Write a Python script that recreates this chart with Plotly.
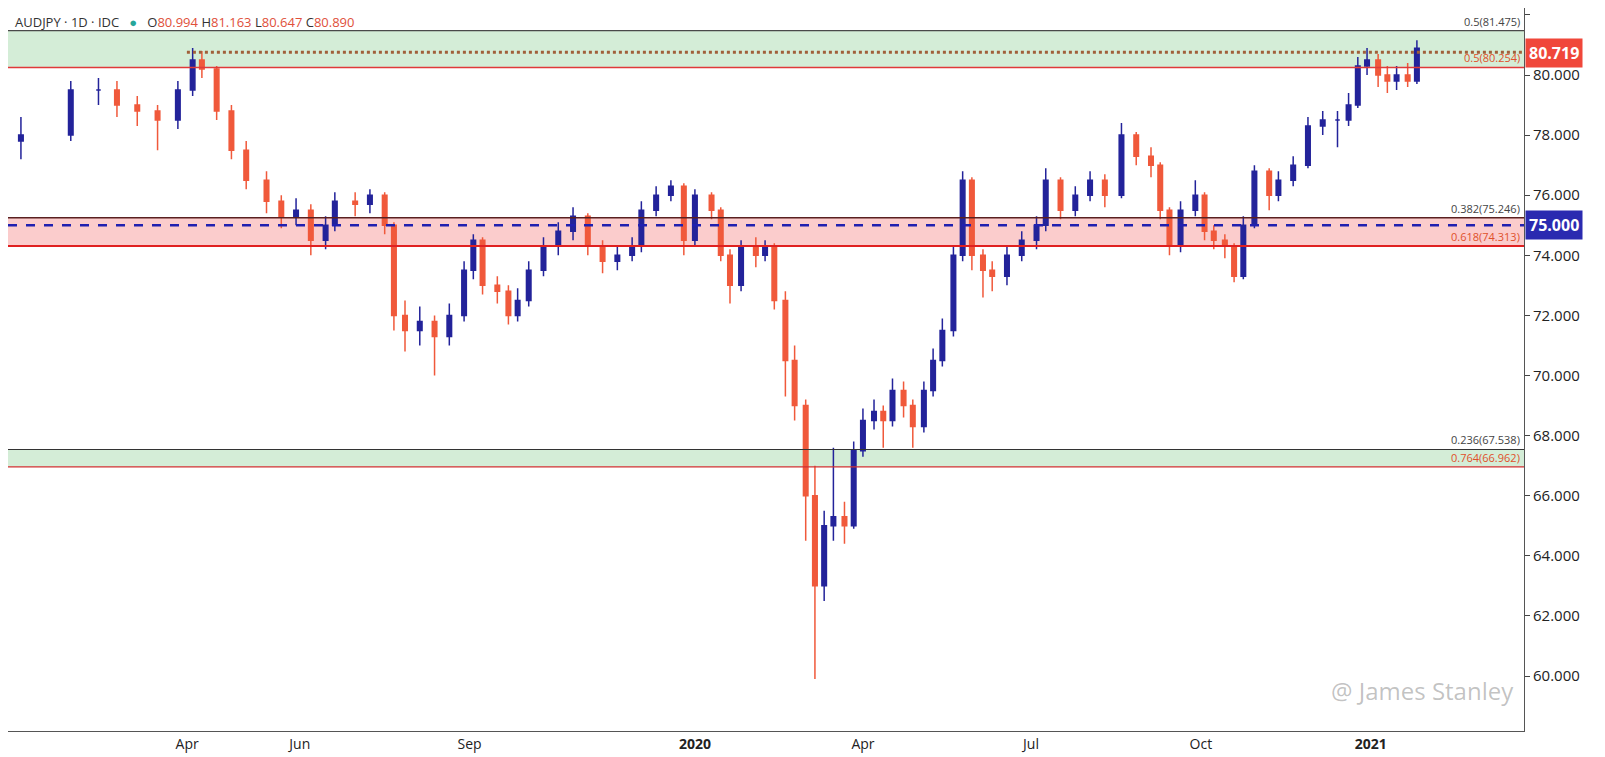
import plotly.graph_objects as go
import pandas as pd

dates = ["2019-01-01","2019-01-28","2019-02-12","2019-02-22","2019-03-05","2019-03-16","2019-03-27","2019-04-04","2019-04-09","2019-04-17",
"2019-04-25","2019-05-03","2019-05-14","2019-05-22","2019-05-30","2019-06-07","2019-06-15","2019-06-20","2019-07-01","2019-07-09",
"2019-07-17","2019-07-22","2019-07-28","2019-08-05","2019-08-13","2019-08-21","2019-08-29","2019-09-03","2019-09-08","2019-09-16",
"2019-09-22","2019-09-27","2019-10-03","2019-10-11","2019-10-19","2019-10-27","2019-11-04","2019-11-12","2019-11-20","2019-11-28",
"2019-12-03","2019-12-11","2019-12-19","2019-12-26","2020-01-01","2020-01-10","2020-01-15","2020-01-20","2020-01-26","2020-02-03",
"2020-02-08","2020-02-13","2020-02-19","2020-02-24","2020-03-01","2020-03-06","2020-03-11","2020-03-16","2020-03-22","2020-03-27",
"2020-04-01","2020-04-07","2020-04-12","2020-04-17","2020-04-23","2020-04-28","2020-05-04","2020-05-09","2020-05-14","2020-05-20",
"2020-05-25","2020-05-30","2020-06-05","2020-06-10","2020-06-18","2020-06-26","2020-07-04","2020-07-09","2020-07-17","2020-07-25",
"2020-08-02","2020-08-10","2020-08-19","2020-08-27","2020-09-04","2020-09-09","2020-09-14","2020-09-20","2020-09-28","2020-10-03",
"2020-10-08","2020-10-14","2020-10-19","2020-10-24","2020-10-30","2020-11-07","2020-11-12","2020-11-20","2020-11-28","2020-12-06",
"2020-12-14","2020-12-20","2020-12-25","2020-12-30","2021-01-05","2021-01-10","2021-01-15","2021-01-21","2021-01-26"]

close = [78.0,79.5,79.5,79.0,78.8,78.5,79.5,80.5,80.2,78.8,
77.5,76.5,75.8,75.3,75.5,74.5,75.0,75.8,75.7,76.0,
75.0,72.0,71.5,71.8,71.3,72.0,73.5,74.5,73.0,72.8,
72.0,72.5,73.5,74.3,74.8,75.3,74.3,73.8,74.0,74.3,
75.5,76.0,76.3,74.5,76.0,75.5,74.0,73.0,74.3,74.0,
74.3,72.5,70.5,69.0,66.0,63.0,65.0,65.3,65.0,67.5,
68.5,68.8,68.5,69.5,69.0,68.3,69.5,70.5,71.5,74.0,
76.5,74.0,73.5,73.3,74.0,74.5,75.0,76.5,75.5,76.0,
76.5,76.0,78.0,77.3,77.0,75.5,74.3,75.5,76.0,74.8,
74.5,74.3,73.3,75.0,76.8,76.0,76.5,77.0,78.3,78.5,
78.5,79.0,80.3,80.5,80.0,79.8,80.0,79.8,80.89]

high = [78.6,79.8,79.9,79.8,79.3,79.0,79.8,80.9,80.8,80.3,
79.0,77.8,76.8,76.0,75.9,75.7,75.3,76.1,76.1,76.2,
76.1,75.1,72.5,72.3,72.0,72.4,73.8,74.7,74.6,73.3,
73.0,72.9,73.8,74.6,75.1,75.6,75.4,74.5,74.3,74.6,
75.8,76.3,76.5,76.4,76.2,76.1,75.6,74.2,74.5,74.6,
74.5,74.4,72.8,71.0,69.2,67.0,65.5,67.6,65.8,67.8,
68.9,69.2,69.0,69.9,69.8,69.2,69.8,70.9,71.9,74.3,
76.8,76.6,74.2,73.8,74.3,74.8,75.3,76.9,76.6,76.3,
76.8,76.7,78.4,78.1,77.6,77.1,75.6,75.8,76.5,76.1,
75.0,74.7,74.4,75.3,77.0,76.9,76.8,77.3,78.6,78.8,
78.8,79.4,80.6,80.9,80.7,80.3,80.3,80.4,81.16]

low = [77.2,77.8,79.0,78.6,78.3,77.5,78.2,79.3,79.9,78.5,
77.2,76.2,75.4,74.9,75.0,74.0,74.2,74.8,75.3,75.4,
74.7,71.5,70.8,71.0,70.0,71.0,71.8,73.2,72.7,72.4,
71.7,71.8,72.3,73.3,74.0,74.5,74.0,73.4,73.5,73.8,
74.1,75.3,75.8,74.0,74.3,75.2,73.8,72.4,72.8,73.6,
73.8,72.2,69.3,68.5,64.5,59.9,62.5,64.5,64.4,64.9,
67.3,68.2,67.6,68.3,68.6,67.6,68.1,69.3,70.3,71.3,
73.8,73.5,72.6,72.8,73.0,73.8,74.2,74.8,75.2,75.3,
75.8,75.6,75.9,77.0,76.6,75.2,74.0,74.1,75.3,74.5,
74.2,73.9,73.1,73.2,74.9,75.5,75.8,76.3,76.9,78.0,
77.6,78.3,78.9,80.0,79.6,79.4,79.5,79.6,79.7]

first_open = 77.8
opens = [first_open] + close[:-1]

levels = {"top_green_hi": 81.475, "top_green_lo": 80.254, "dotted": 80.76,
          "mid_hi": 75.246, "mid_lo": 74.313, "mid": 75.0,
          "low_hi": 67.538, "low_lo": 66.962}

tick_vals = ["2019-04-01","2019-06-01","2019-09-01","2020-01-01","2020-04-01","2020-07-01","2020-10-01","2021-01-01"]
tick_text = ["Apr","Jun","Sep","<b>2020</b>","Apr","Jul","Oct","<b>2021</b>"]
y_ticks = [60,62,64,66,68,70,72,74,76,78,80,82]

x0, x1 = "2018-12-25", "2021-03-25"
UP, DN = "#23239a", "#f0593b"

fig = go.Figure()
fig.add_trace(go.Candlestick(x=pd.to_datetime(dates), open=opens, high=high, low=low, close=close,
    increasing=dict(line=dict(color=UP, width=1.5), fillcolor=UP),
    decreasing=dict(line=dict(color=DN, width=1.5), fillcolor=DN),
    whiskerwidth=0, showlegend=False))

shapes = []
def band(lo, hi, fill):
    shapes.append(dict(type="rect", xref="paper", x0=0, x1=1, yref="y", y0=lo, y1=hi,
                       fillcolor=fill, line=dict(width=0), layer="below"))
def hline(y, color, dash="solid", width=1.5, xs=0):
    shapes.append(dict(type="line", xref="paper", x0=xs, x1=1, yref="y", y0=y, y1=y,
                       line=dict(color=color, width=width, dash=dash)))
band(levels["top_green_lo"], levels["top_green_hi"], "rgba(120,200,130,0.32)")
band(levels["mid_lo"], levels["mid_hi"], "rgba(245,120,120,0.38)")
band(levels["low_lo"], levels["low_hi"], "rgba(120,200,130,0.32)")
hline(levels["top_green_hi"], "#4a4a4a", width=1.2)
hline(levels["top_green_lo"], "#e03a3a")
hline(levels["dotted"], "#a0603a", dash="dot", width=3, xs=0.118)
hline(levels["mid_hi"], "#5a2020", width=1.5)
hline(levels["mid_lo"], "#e02020", width=2)
hline(levels["mid"], "#2020b0", dash="dash", width=2.5)
hline(levels["low_hi"], "#333333", width=1.2)
hline(levels["low_lo"], "#d03030", width=1.2)

ann = []
def lab(y, text, color):
    ann.append(dict(xref="paper", x=0.999, y=y, yref="y", text=text, showarrow=False,
                    xanchor="right", yanchor="bottom", font=dict(size=11, color=color, family="Open Sans")))
lab(levels["top_green_hi"], "0.5(81.475)", "#444")
lab(levels["top_green_lo"], "0.5(80.254)", "#e0502a")
lab(levels["mid_hi"], "0.382(75.246)", "#444")
lab(levels["mid_lo"], "0.618(74.313)", "#e0502a")
lab(levels["low_hi"], "0.236(67.538)", "#444")
lab(levels["low_lo"], "0.764(66.962)", "#e0502a")
ann.append(dict(xref="paper", x=1.0, xanchor="left", y=80.719, yref="y", text="<b>80.719</b>", showarrow=False,
                bgcolor="#f0473a", font=dict(size=16, color="white", family="Open Sans"), borderpad=3, xshift=1))
ann.append(dict(xref="paper", x=1.0, xanchor="left", y=75.0, yref="y", text="<b>75.000</b>", showarrow=False,
                bgcolor="#2a2ab0", font=dict(size=16, color="white", family="Open Sans"), borderpad=3, xshift=1))
ann.append(dict(xref="paper", yref="paper", x=0.003, y=0.996, xanchor="left", yanchor="top", showarrow=False,
                text="AUDJPY · 1D · IDC   <span style='color:#26a69a'>●</span>   O<span style='color:#e0503a'>80.994</span> H<span style='color:#e0503a'>81.163</span> L<span style='color:#e0503a'>80.647</span> C<span style='color:#e0503a'>80.890</span>",
                font=dict(size=13, color="#333", family="Open Sans")))
ann.append(dict(xref="paper", yref="paper", x=0.995, y=0.03, xanchor="right", yanchor="bottom", showarrow=False,
                text="@ James Stanley", font=dict(size=24, color="rgba(120,120,120,0.45)", family="Open Sans")))

fig.update_layout(width=1588, height=757, margin=dict(l=0, r=72, t=0, b=34),
    paper_bgcolor="white", plot_bgcolor="white", shapes=shapes, annotations=ann,
    xaxis=dict(range=[x0, x1], rangeslider=dict(visible=False), tickvals=tick_vals, ticktext=tick_text, automargin=False,
               showgrid=False, tickfont=dict(size=14, color="#222", family="Open Sans"), ticks="", showline=True, linecolor="#555"),
    yaxis=dict(side="right", range=[58.17, 82.23], tickvals=y_ticks, ticktext=[f"{v:.3f}" for v in y_ticks], automargin=False,
               showgrid=False, tickfont=dict(size=15, color="#222", family="Open Sans"), ticks="outside", ticklen=5,
               showline=True, linecolor="#555", zeroline=False))
fig.write_html("out.html")
